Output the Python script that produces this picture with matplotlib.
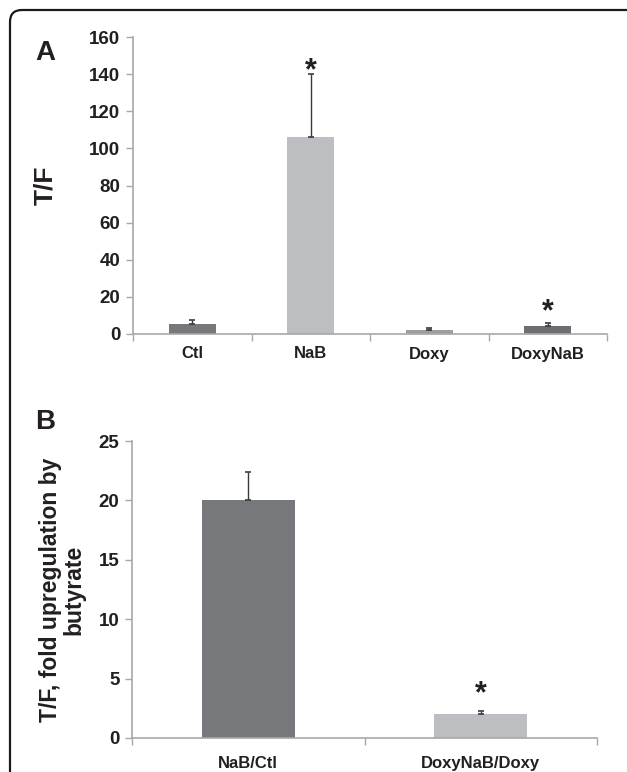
import numpy as np
import matplotlib
matplotlib.use("Agg")
import matplotlib.pyplot as plt
from matplotlib.patches import FancyBboxPatch

# === DATA ===
a_labels = ["Ctl", "NaB", "Doxy", "DoxyNaB"]
a_values = [5.5, 106, 2.2, 4.3]
a_errors = [2.0, 34, 1.2, 1.5]
a_star_y = [None, 147, None, 16.7]   # where the significance stars sit

b_labels = ["NaB/Ctl", "DoxyNaB/Doxy"]
b_values = [20.0, 2.05]
b_errors = [2.35, 0.25]
b_star_y = [None, 4.5]

# colours
dark = "#77787c"
darker = "#6d6e71"
light = "#bdbec1"
mid = "#9c9da0"
text_c = "#231f20"
axis_c = "#a8a8a8"

plt.rcParams["font.family"] = ["Liberation Sans", "DejaVu Sans"]
plt.rcParams["font.weight"] = "bold"

fig = plt.figure(figsize=(6.27, 7.72), dpi=100)

# rounded frame around both panels (right and bottom run off the figure)
frame = FancyBboxPatch((0.10, -0.5), 6.30, 7.62 + 0.5,
                       boxstyle="round,pad=0,rounding_size=0.12",
                       transform=fig.dpi_scale_trans, fill=False,
                       edgecolor="#1a1a1a", linewidth=1.6, clip_on=False)
fig.patches.append(frame)


def bar_panel(ax, labels, values, errors, star_y, colors, ymax, step, lab_pad):
    x = np.arange(len(labels))
    ax.bar(x, values, width=0.4, color=colors, zorder=2)
    ax.errorbar(x, values, yerr=[np.zeros(len(errors)), errors], fmt="none",
                ecolor="#3a3a3a", elinewidth=1, capsize=2.5, capthick=1.2, zorder=3)
    for xi, sy in zip(x, star_y):
        if sy is not None:
            ax.annotate("*", (xi, sy), xytext=(0, -0.58 * 22), textcoords="offset points",
                        ha="center", va="baseline", fontsize=22, color=text_c)
    ax.set_xlim(-0.5, len(labels) - 0.5)
    ax.set_ylim(0, ymax)
    ax.set_yticks(np.arange(0, ymax + step / 2, step))
    ax.set_xticks(x)
    ax.set_xticklabels(labels, fontsize=12, fontweight="bold", color=text_c)
    ax.set_xticks(np.arange(-0.5, len(labels), 1), minor=True)
    ax.tick_params(axis="x", which="major", length=0, pad=lab_pad)
    ax.tick_params(axis="x", which="minor", length=5, color=axis_c, width=1)
    ax.tick_params(axis="y", length=5, color=axis_c, width=1, pad=4,
                   labelsize=13.5, labelcolor=text_c)
    for t in ax.get_yticklabels():
        t.set_fontweight("bold")
    for side in ["top", "right"]:
        ax.spines[side].set_visible(False)
    for side in ["left", "bottom"]:
        ax.spines[side].set_color(axis_c)
        ax.spines[side].set_linewidth(1.2)
    ax.spines["bottom"].set_zorder(4)


# Panel A
axA = fig.add_axes([133 / 627, 1 - 334 / 772, 474 / 627, 297 / 772])
bar_panel(axA, a_labels, a_values, a_errors, a_star_y,
          [dark, light, mid, darker], 160, 20, 9)
axA.set_ylabel("T/F", fontsize=19, fontweight="bold", color=text_c)
axA.yaxis.set_label_coords(-0.16, 0.5)
fig.text(35 / 627, 1 - 53 / 772, "A", fontsize=20, fontweight="bold",
         color=text_c, va="center", ha="left")

# Panel B
axB = fig.add_axes([132 / 627, 1 - 738 / 772, 465 / 627, 297 / 772])
bar_panel(axB, b_labels, b_values, b_errors, b_star_y,
          [dark, light], 25, 5, 13)
axB.set_ylabel("T/F, fold upregulation by\nbutyrate", fontsize=16.5,
               fontweight="bold", color=text_c, linespacing=1.0)
axB.yaxis.set_label_coords(-0.1, 0.5)
fig.text(35 / 627, 1 - 422 / 772, "B", fontsize=20, fontweight="bold",
         color=text_c, va="center", ha="left")

fig.savefig("out.png", dpi=100)
